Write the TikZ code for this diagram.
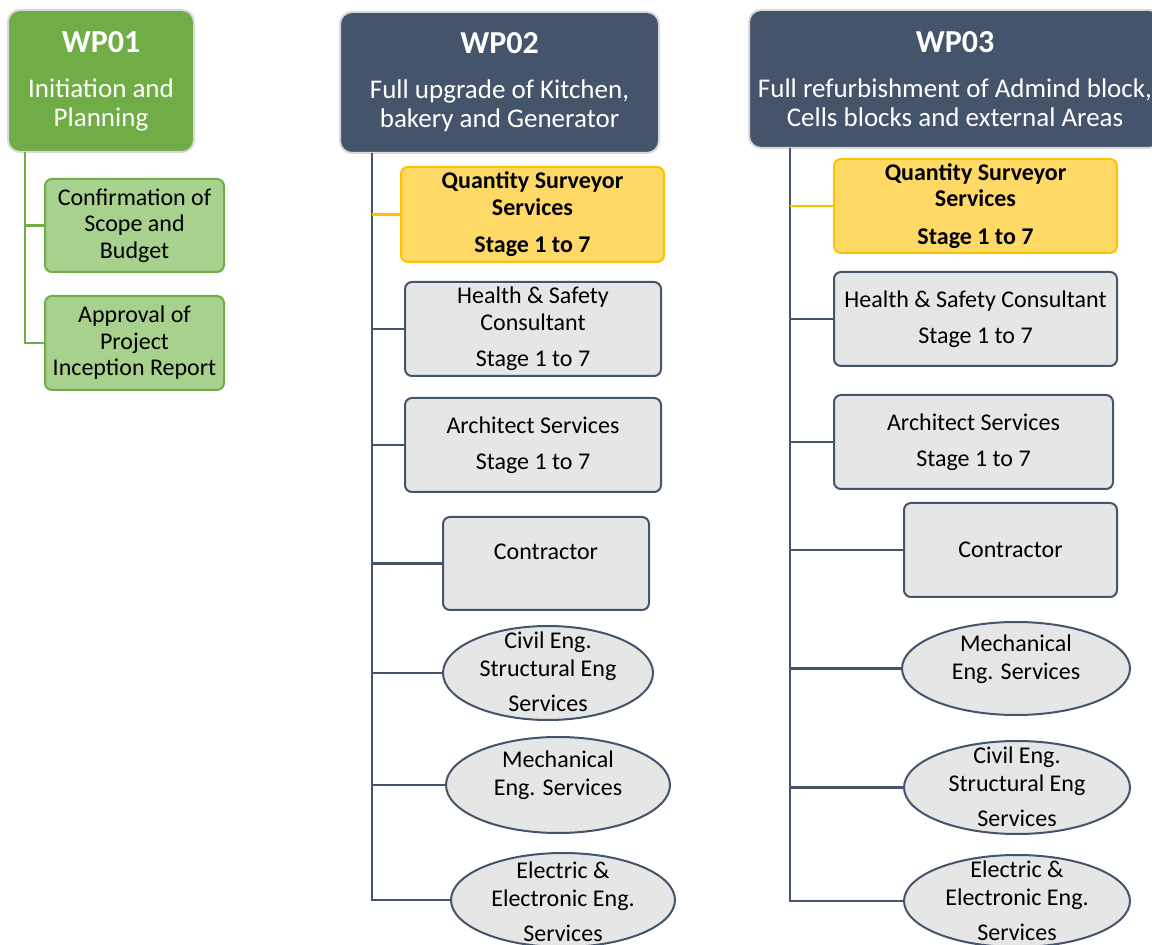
\documentclass[tikz,border=0pt]{standalone}
\usepackage{fontspec}
\setmainfont{Carlito}
\usepackage{tikz}
\usetikzlibrary{shapes.geometric}
\definecolor{wpgreen}{HTML}{70AD47}
\definecolor{wplightgreen}{HTML}{A9D18E}
\definecolor{wpslate}{HTML}{44546A}
\definecolor{wpgold}{HTML}{FFC000}
\definecolor{wplightgold}{HTML}{FFD966}
\definecolor{wpgrey}{HTML}{E7E6E6}
\definecolor{wpedge}{HTML}{D9D9D9}
\newcommand{\wptitle}[1]{{\fontsize{16}{19}\selectfont\bfseries #1}}
\newcommand{\ovaltext}[2][0pt]{\smash{\makebox[0pt]{\raisebox{#1}{\begin{tabular}{@{}c@{}}#2\end{tabular}}}}}
\tikzstyle{header} = [rectangle,
rounded corners=6pt,
draw=wpedge,
line width=1pt,
text=white,
align=center,
inner sep=0pt,
font=\fontsize{13.5}{14.5}\selectfont]
\tikzstyle{greenbox} = [rectangle, rounded corners=3.5pt, draw=wpgreen, line width=1pt,
fill=wplightgreen, align=center, inner sep=0.5pt, font=\fontsize{12}{13.25}\selectfont]
\tikzstyle{qsbox} = [rectangle, rounded corners=3.5pt, draw=wpgold, line width=1pt,
fill=wplightgold, align=center, inner sep=0.5pt, font=\fontsize{12}{13.25}\selectfont\bfseries]
\tikzstyle{greybox} = [rectangle, rounded corners=3.5pt, draw=wpslate, line width=1pt,
fill=wpgrey, align=center, inner sep=0.5pt, font=\fontsize{12}{13.25}\selectfont]
\tikzstyle{oval} = [ellipse, draw=wpslate, line width=1pt, fill=wpgrey,
inner sep=0pt, font=\fontsize{12}{14}\selectfont]
\tikzstyle{trunk} = [line width=1.25pt, wpslate]
\tikzstyle{greentrunk} = [line width=1.25pt, wpgreen]
\tikzstyle{qsline} = [line width=1.25pt, wpgold]

\begin{document}
\begin{tikzpicture}[x=0.5pt, y=-0.5pt]
  \useasboundingbox (0,0) rectangle (1152,945);

  % WP01
  \node (hdA) [header, fill=wpgreen, minimum width=93pt, minimum height=71pt] at (101,81)
    {\wptitle{WP01}\\[8pt]Initiation and\\Planning};
  \node (scope) [greenbox, minimum width=89.5pt, minimum height=46.5pt] at (134.5,225.5)
    {Confirmation of\\Scope and\\Budget};
  \node (approval) [greenbox, minimum width=89.5pt, minimum height=47pt] at (134.5,343)
    {Approval of\\Project\\Inception Report};

  % WP02
  \node (hdB) [header, fill=wpslate, minimum width=159.5pt, minimum height=70.5pt] at (499.5,82.5)
    {\wptitle{WP02}\\[8pt]Full upgrade of Kitchen,\\bakery and Generator};
  \node (qsB) [qsbox, minimum width=131.5pt, minimum height=47.5pt] at (532.5,214.5)
    {Quantity Surveyor\\Services\\[5.5pt]Stage 1 to 7};
  \node (hsB) [greybox, minimum width=128pt, minimum height=47pt] at (533,329)
    {Health \& Safety\\Consultant\\[5pt]Stage 1 to 7};
  \node (arB) [greybox, minimum width=128pt, minimum height=47pt] at (533,445)
    {Architect Services\\[5pt]Stage 1 to 7};
  \node (coB) [greybox, minimum width=103pt, minimum height=46.5pt] at (546,563.5)
    {\raisebox{6pt}[\height][\depth]{Contractor}};
  \node (ciB) [oval, minimum width=105pt, minimum height=47pt] at (548,673)
    {\ovaltext[-3.5pt]{Civil Eng.\\Structural Eng\\[3.5pt]Services}};
  \node (meB) [oval, minimum width=112pt, minimum height=48pt] at (558,785)
    {\ovaltext[1.5pt]{Mechanical\\Eng. Services}};
  \node (elB) [oval, minimum width=112pt, minimum height=47pt] at (563,900)
    {\ovaltext[-5pt]{Electric \&\\Electronic Eng.\\[3.5pt]Services}};

  % WP03
  \node (hdC) [header, fill=wpslate, minimum width=206pt, minimum height=69pt] at (955,79)
    {\wptitle{WP03}\\[8pt]Full refurbishment of Admind block,\\Cells blocks and external Areas};
  \node (qsC) [qsbox, minimum width=141.5pt, minimum height=47pt] at (975.5,206)
    {Quantity Surveyor\\Services\\[5.5pt]Stage 1 to 7};
  \node (hsC) [greybox, minimum width=141.5pt, minimum height=47pt] at (975.5,319)
    {Health \& Safety Consultant\\[5pt]Stage 1 to 7};
  \node (arC) [greybox, minimum width=139.5pt, minimum height=47pt] at (973.5,442)
    {Architect Services\\[5pt]Stage 1 to 7};
  \node (coC) [greybox, minimum width=106.5pt, minimum height=47pt] at (1010.5,550)
    {Contractor};
  \node (meC) [oval, minimum width=114pt, minimum height=46.5pt] at (1016,668.5)
    {\ovaltext[1.5pt]{Mechanical\\Eng. Services}};
  \node (ciC) [oval, minimum width=113pt, minimum height=46.5pt] at (1017,787.5)
    {\ovaltext[-4pt]{Civil Eng.\\Structural Eng\\[3.5pt]Services}};
  \node (elC) [oval, minimum width=113pt, minimum height=46pt] at (1017,901)
    {\ovaltext[-4.25pt]{Electric \&\\Electronic Eng.\\[3.5pt]Services}};

  % tree lines
  \coordinate (trunkA) at (25,152);
  \coordinate (trunkB) at (372,153);
  \coordinate (trunkC) at (790,148);
  \draw [greentrunk] (trunkA) |- (scope.west);
  \draw [greentrunk] (trunkA) |- (approval.west);
  \foreach \n in {hsB, arB, coB, ciB, meB, elB}
    \draw [trunk] (trunkB) |- (\n.west);
  \foreach \n in {hsC, arC, coC, meC, ciC, elC}
    \draw [trunk] (trunkC) |- (\n.west);
  \draw [qsline] (trunkB |- qsB.west) -- (qsB.west);
  \draw [qsline] (trunkC |- qsC.west) -- (qsC.west);

\end{tikzpicture}
\end{document}
